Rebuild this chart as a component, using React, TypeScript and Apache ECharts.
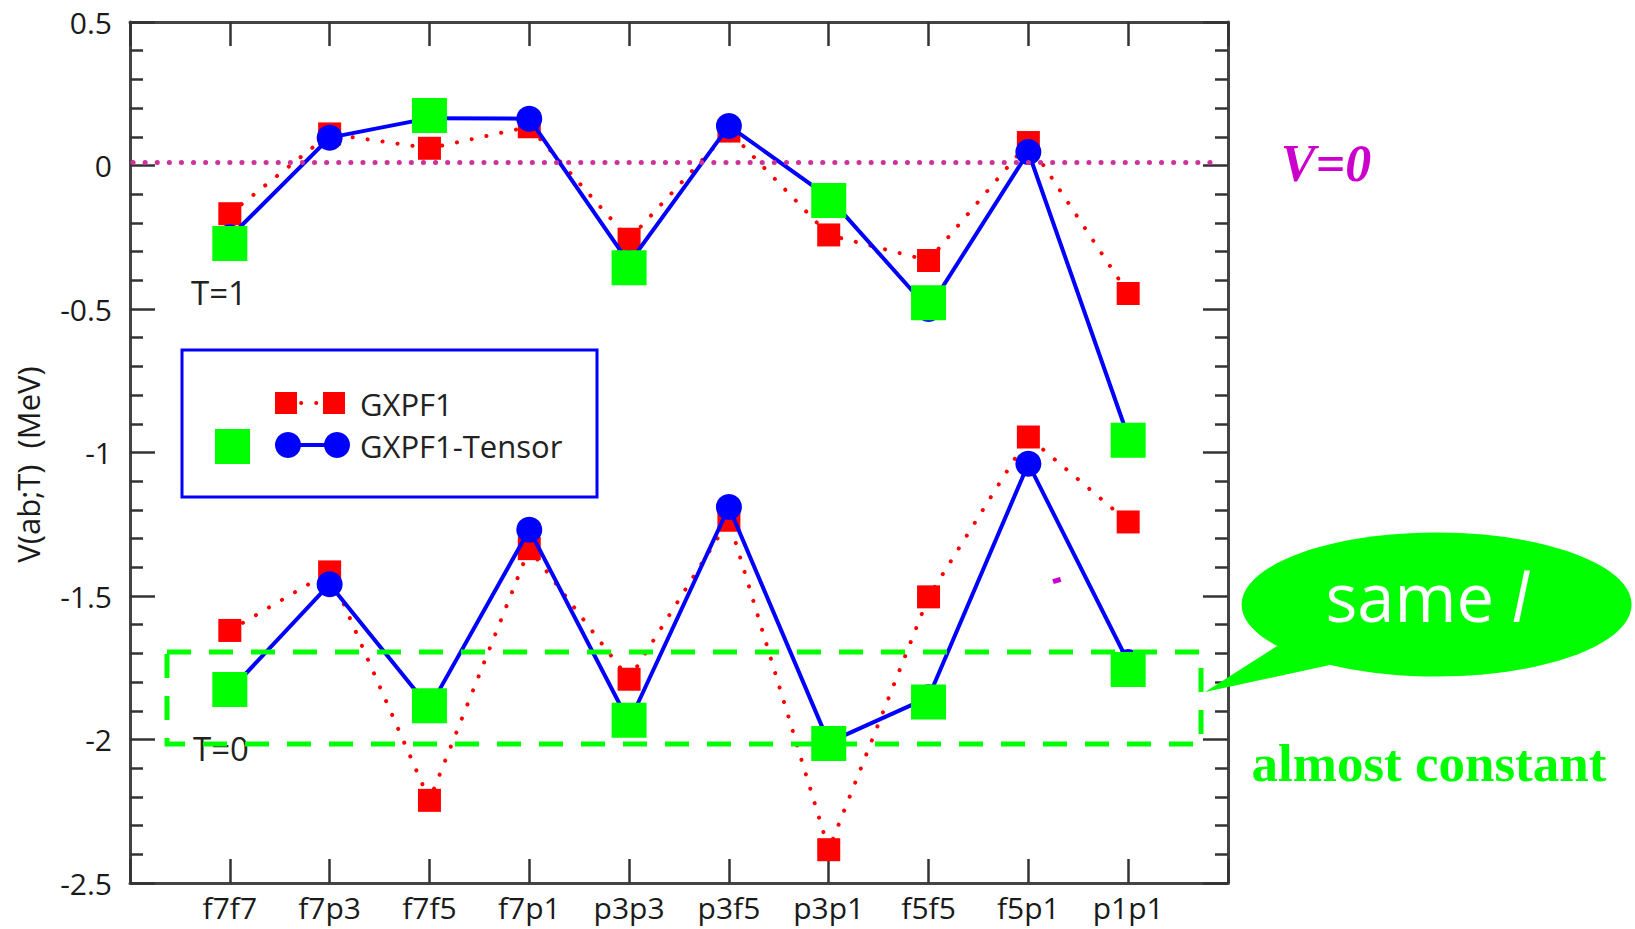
import React, { useEffect, useRef } from "react";
import * as echarts from "echarts";

// Two-body matrix elements V(ab;T) for the fp shell
const categories = ["f7f7", "f7p3", "f7f5", "f7p1", "p3p3", "p3f5", "p3p1", "f5f5", "f5p1", "p1p1"];
const yTicks = [0.5, 0, -0.5, -1, -1.5, -2, -2.5];

const gxpf1T1 = [-0.168, 0.11, 0.06, 0.135, -0.257, 0.12, -0.242, -0.331, 0.08, -0.446];
const gxpf1T0 = [-1.62, -1.416, -2.212, -1.335, -1.79, -1.236, -2.384, -1.503, -0.946, -1.242];
const tensorT1 = [-0.25, 0.097, 0.165, 0.163, -0.34, 0.138, -0.11, -0.5, 0.047, -0.945];
const tensorT0 = [-1.83, -1.459, -1.889, -1.269, -1.94, -1.19, -2.01, -1.853, -1.039, -1.73];

// pairs with the same orbital angular momentum l
const sameLIdx = [0, 2, 4, 6, 7, 9];
const sameLT1 = [-0.272, 0.174, -0.356, -0.122, -0.478, -0.957];
const sameLT0 = [-1.826, -1.882, -1.933, -2.014, -1.869, -1.756];

const zeroLevel = 0.012;

const SANS = '"Open Sans", "DejaVu Sans", sans-serif';
const SERIF = '"Liberation Serif", "DejaVu Serif", serif';
const RED = "#ff0000";
const BLUE = "#0000ff";
const GREEN = "#00ff00";
const AXIS = "#444444";

const pts = (vals: number[]) => vals.map((v, i) => [i + 1, v]);
const ptsAt = (idx: number[], vals: number[]) => vals.map((v, i) => [idx[i] + 1, v]);

const dotted = { color: RED, width: 4, type: [0.1, 15] as number[], cap: "round" as const };

function buildOption() {
  const xCommon = {
    type: "value" as const,
    min: 0,
    max: 11,
    interval: 1,
    splitLine: { show: false },
    axisLine: { show: true, onZero: false, lineStyle: { color: AXIS, width: 3 } },
    axisTick: { show: true, inside: true, length: 24, lineStyle: { color: "#333", width: 2.5 } },
  };
  const yCommon = {
    type: "value" as const,
    min: -2.5,
    max: 0.5,
    interval: 0.5,
    splitLine: { show: false },
    axisLine: { show: true, onZero: false, lineStyle: { color: AXIS, width: 3 } },
    axisTick: { show: true, inside: true, length: 25, lineStyle: { color: "#333", width: 2.5 } },
    minorTick: { show: true, splitNumber: 5, length: 13, lineStyle: { color: "#333", width: 2.5 } },
  };
  return {
    animation: false,
    backgroundColor: "#ffffff",
    grid: { left: 130, right: 407, top: 22, bottom: 46 },
    xAxis: [
      {
        ...xCommon,
        position: "bottom",
        axisLabel: {
          show: true,
          margin: 9,
          fontSize: 30,
          fontFamily: SANS,
          color: "#1a1a1a",
          formatter: (v: number) => (Number.isInteger(v) && v >= 1 && v <= categories.length ? categories[v - 1] : ""),
        },
      },
      { ...xCommon, position: "top", axisLabel: { show: false } },
    ],
    yAxis: [
      {
        ...yCommon,
        position: "left",
        name: "V(ab;T)  (MeV)",
        nameLocation: "middle",
        nameRotate: 90,
        nameGap: 87,
        nameTextStyle: { fontSize: 31, fontFamily: SANS, color: "#1a1a1a", padding: [0, 24, 0, 0] },
        axisLabel: {
          show: true,
          margin: 18,
          fontSize: 30,
          fontFamily: SANS,
          color: "#1a1a1a",
          customValues: yTicks,
          formatter: (v: number) => String(v),
        },
      },
      { ...yCommon, position: "right", axisLabel: { show: false } },
    ],
    series: [
      {
        name: "GXPF1",
        type: "line",
        data: pts(gxpf1T1),
        symbol: "rect",
        symbolSize: 23,
        itemStyle: { color: RED, opacity: 1 },
        lineStyle: dotted,
        z: 2,
      },
      {
        name: "GXPF1",
        type: "line",
        data: pts(gxpf1T0),
        symbol: "rect",
        symbolSize: 23,
        itemStyle: { color: RED, opacity: 1 },
        lineStyle: dotted,
        z: 2,
      },
      {
        name: "GXPF1-Tensor",
        type: "line",
        data: pts(tensorT1),
        symbol: "circle",
        symbolSize: 26,
        itemStyle: { color: BLUE, opacity: 1 },
        lineStyle: { color: BLUE, width: 4 },
        z: 3,
      },
      {
        name: "GXPF1-Tensor",
        type: "line",
        data: pts(tensorT0),
        symbol: "circle",
        symbolSize: 26,
        itemStyle: { color: BLUE, opacity: 1 },
        lineStyle: { color: BLUE, width: 4 },
        z: 3,
      },
      {
        name: "same l",
        type: "scatter",
        data: ptsAt(sameLIdx, sameLT1),
        symbol: "rect",
        symbolSize: 35,
        itemStyle: { color: GREEN, opacity: 1 },
        z: 4,
        markLine: {
          silent: true,
          symbol: ["none", "none"],
          label: { show: false },
          lineStyle: { color: "#cc3399", width: 5, type: [0.1, 12], cap: "round" },
          data: [[{ coord: [0.03, zeroLevel] }, { coord: [10.86, zeroLevel] }]],
        },
      },
      {
        name: "same l",
        type: "scatter",
        data: ptsAt(sameLIdx, sameLT0),
        symbol: "rect",
        symbolSize: 35,
        itemStyle: { color: GREEN, opacity: 1 },
        z: 4,
      },
    ],
    graphic: [
      // T labels
      { type: "text", z: 20, x: 219, y: 292, style: { text: "T=1", fontSize: 33, fontFamily: SANS, fill: "#222", align: "center", verticalAlign: "middle" } },
      { type: "text", z: 20, x: 221, y: 748, style: { text: "T=0", fontSize: 33, fontFamily: SANS, fill: "#222", align: "center", verticalAlign: "middle" } },
      // V=0 tag
      {
        type: "text", z: 20, x: 1326, y: 163,
        style: { text: "V=0", fontSize: 52, fontFamily: SERIF, fontWeight: "bold", fontStyle: "italic", fill: "#cc00cc", align: "center", verticalAlign: "middle" },
      },
      // legend box
      { type: "rect", z: 20, shape: { x: 182, y: 350, width: 415, height: 147 }, style: { fill: "#ffffff", stroke: BLUE, lineWidth: 3 } },
      { type: "line", z: 21, shape: { x1: 286, y1: 403, x2: 334, y2: 403 }, style: { stroke: RED, lineWidth: 4, lineDash: [0.1, 15], lineCap: "round" } },
      { type: "rect", z: 22, shape: { x: 275, y: 392, width: 22, height: 22 }, style: { fill: RED } },
      { type: "rect", z: 22, shape: { x: 323, y: 392, width: 22, height: 22 }, style: { fill: RED } },
      { type: "line", z: 21, shape: { x1: 288, y1: 445, x2: 337, y2: 445 }, style: { stroke: BLUE, lineWidth: 4 } },
      { type: "circle", z: 22, shape: { cx: 288, cy: 445, r: 13 }, style: { fill: BLUE } },
      { type: "circle", z: 22, shape: { cx: 337, cy: 445, r: 13 }, style: { fill: BLUE } },
      { type: "rect", z: 22, shape: { x: 215, y: 429, width: 35, height: 35 }, style: { fill: GREEN } },
      { type: "text", z: 22, x: 360, y: 404, style: { text: "GXPF1", fontSize: 31, fontFamily: SANS, fill: "#222", verticalAlign: "middle" } },
      { type: "text", z: 22, x: 360, y: 446, style: { text: "GXPF1-Tensor", fontSize: 31, fontFamily: SANS, fill: "#222", verticalAlign: "middle" } },
      // dashed box around the T=0 same-l points
      { type: "rect", z: 25, shape: { x: 167, y: 652, width: 1034, height: 92 }, style: { fill: "none", stroke: GREEN, lineWidth: 5, lineDash: [24, 18] } },
      // speech bubble
      { type: "polygon", z: 26, shape: { points: [[1277, 646], [1205, 692], [1330, 665]] }, style: { fill: GREEN } },
      { type: "ellipse", z: 26, shape: { cx: 1436.6, cy: 604.6, rx: 195, ry: 72 }, style: { fill: GREEN } },
      {
        type: "text", z: 27, x: 1427, y: 596,
        style: {
          text: "{a|same }{b|l}",
          align: "center",
          verticalAlign: "middle",
          rich: {
            a: { fontSize: 67, fontFamily: SANS, fill: "#ffffff" },
            b: { fontSize: 67, fontFamily: SANS, fontStyle: "italic", fill: "#ffffff" },
          },
        },
      },
      {
        type: "text", z: 26, x: 1429, y: 763,
        style: { text: "almost constant", fontSize: 53, fontFamily: SERIF, fontWeight: "bold", fill: GREEN, align: "center", verticalAlign: "middle" },
      },
      // small magenta mark
      { type: "rect", z: 26, x: 1057, y: 581, rotation: 0.3, shape: { x: -4, y: -3, width: 8, height: 5 }, style: { fill: "#cc00cc" } },
    ],
  };
}

export default function App() {
  const ref = useRef<HTMLDivElement>(null);
  useEffect(() => {
    if (!ref.current) return;
    const chart = echarts.init(ref.current, null, { renderer: "svg" });
    chart.setOption(buildOption() as any);
    return () => chart.dispose();
  }, []);
  return (
    <div
      ref={ref}
      style={{ position: "absolute", left: 0, top: 0, width: 1635, height: 929, background: "#fff" }}
    />
  );
}
